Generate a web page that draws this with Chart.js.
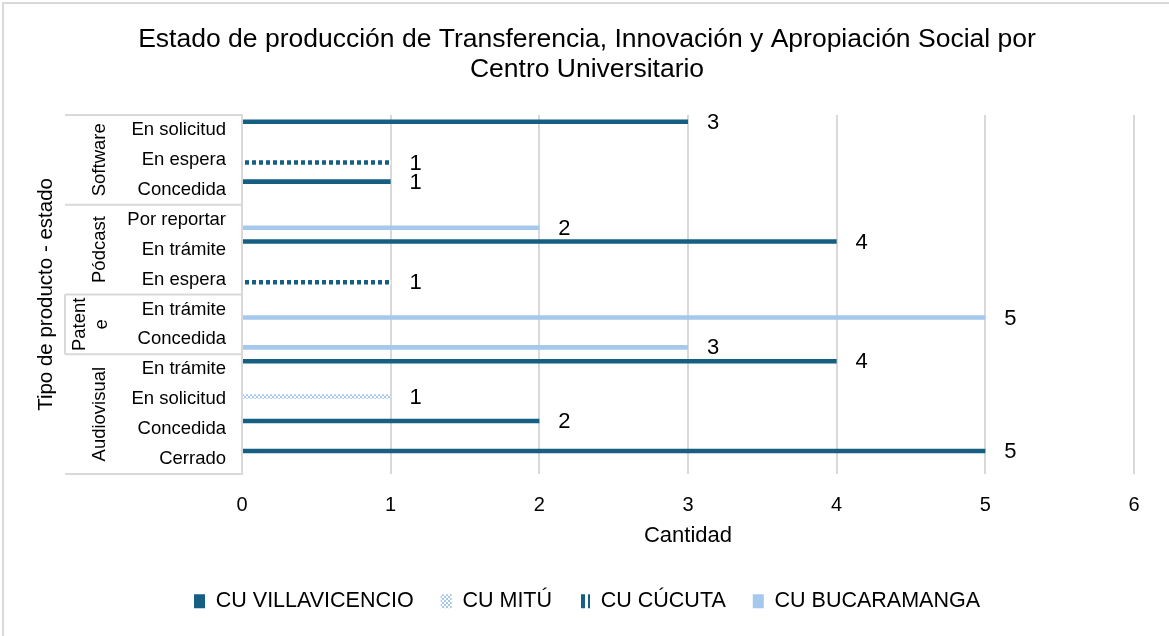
<!DOCTYPE html>
<html>
<head>
<meta charset="utf-8">
<script src="https://cdn.jsdelivr.net/npm/chart.js@4/dist/chart.umd.min.js"></script>
<style>
  body { margin: 0; background: #fff; }
  canvas { display: block; }
</style>
</head>
<body>
<canvas id="chart" width="1169" height="636"></canvas>
<script>
const FONT = 'Arial, "Liberation Sans", sans-serif';

const categories = [
  'En solicitud', 'En espera', 'Concedida',
  'Por reportar', 'En trámite', 'En espera',
  'En trámite', 'Concedida',
  'En trámite', 'En solicitud', 'Concedida', 'Cerrado',
];
const groupLabels = [['Software'], ['Pódcast'], ['Patent', 'e'], ['Audiovisual']];
const groupSizes = [3, 3, 2, 4];

const villavicencio = [3, null, 1, null, 4, null, null, null, 4, null, 2, 5];
const mitu = [null, null, null, null, null, null, null, null, null, 1, null, null];
const cucuta = [null, 1, null, null, null, 1, null, null, null, null, null, null];
const bucaramanga = [null, null, null, 2, null, null, 5, 3, null, null, null, null];

const xTicks = [0, 1, 2, 3, 4, 5, 6];

const DARK = '#175e83';
const LIGHT = '#a6c8ec';
const GRID = '#d9d9d9';

function makePattern(w, h, draw) {
  const c = document.createElement('canvas');
  c.width = w;
  c.height = h;
  const g = c.getContext('2d');
  draw(g);
  return g.createPattern(c, 'repeat');
}

// small checks for Mitú
const mituPattern = makePattern(4, 4, (g) => {
  g.fillStyle = '#ffffff';
  g.fillRect(0, 0, 4, 4);
  g.fillStyle = LIGHT;
  g.fillRect(0, 0, 2, 2);
  g.fillRect(2, 2, 2, 2);
});

// square dashes for Cúcuta
const cucutaPattern = makePattern(7, 8, (g) => {
  g.fillStyle = '#ffffff';
  g.fillRect(0, 0, 7, 8);
  g.fillStyle = DARK;
  g.fillRect(0, 0, 4, 8);
});

const groupPlugin = {
  id: 'groupLabels',
  beforeDraw(chart) {
    const ctx = chart.ctx;
    ctx.save();
    ctx.strokeStyle = GRID;
    ctx.lineWidth = 2;
    ctx.strokeRect(3, 3, chart.width, chart.height);
    ctx.restore();
  },
  afterDraw(chart) {
    const { ctx, chartArea } = chart;
    const y = chart.scales.y;
    const left = 65;
    const right = chartArea.left;
    const half = (y.getPixelForValue(1) - y.getPixelForValue(0)) / 2;
    ctx.save();
    ctx.strokeStyle = GRID;
    ctx.lineWidth = 2;
    ctx.beginPath();
    ctx.moveTo(left, chartArea.top);
    ctx.lineTo(right, chartArea.top);
    ctx.moveTo(left, chartArea.bottom);
    ctx.lineTo(right, chartArea.bottom);

    let start = 0;
    const bounds = [];
    groupSizes.forEach((size) => {
      const top = y.getPixelForValue(start) - half;
      const bottom = y.getPixelForValue(start + size - 1) + half;
      bounds.push([top, bottom]);
      start += size;
    });
    bounds.slice(1).forEach(([top]) => {
      ctx.moveTo(left, top);
      ctx.lineTo(right, top);
    });
    // Patente box keeps its left edge
    ctx.moveTo(left, bounds[2][0]);
    ctx.lineTo(left, bounds[2][1]);
    ctx.stroke();

    ctx.fillStyle = '#000';
    ctx.font = `18.5px ${FONT}`;
    ctx.textAlign = 'center';
    ctx.textBaseline = 'middle';
    groupLabels.forEach((lines, i) => {
      const cy = (bounds[i][0] + bounds[i][1]) / 2;
      const lh = 22;
      const x0 = 100 - ((lines.length - 1) * lh) / 2 - (lines.length > 1 ? 9 : 0);
      lines.forEach((line, j) => {
        ctx.save();
        ctx.translate(x0 + j * lh, cy);
        ctx.rotate(-Math.PI / 2);
        ctx.fillText(line, 0, 0);
        ctx.restore();
      });
    });
    ctx.restore();
  },
  afterDatasetsDraw(chart) {
    const ctx = chart.ctx;
    ctx.save();
    ctx.fillStyle = '#000';
    ctx.font = `22px ${FONT}`;
    ctx.textAlign = 'center';
    ctx.textBaseline = 'middle';
    chart.data.datasets.forEach((ds, i) => {
      const meta = chart.getDatasetMeta(i);
      meta.data.forEach((bar, j) => {
        const v = ds.data[j];
        if (v === null || v === undefined) return;
        ctx.fillText(String(v), bar.x + 25, bar.y + 1);
      });
    });
    ctx.restore();
  },
};

new Chart(document.getElementById('chart'), {
  type: 'bar',
  data: {
    labels: categories,
    datasets: [
      { label: 'CU VILLAVICENCIO', data: villavicencio, backgroundColor: DARK },
      { label: 'CU MITÚ', data: mitu, backgroundColor: mituPattern },
      { label: 'CU CÚCUTA', data: cucuta, backgroundColor: cucutaPattern },
      { label: 'CU BUCARAMANGA', data: bucaramanga, backgroundColor: LIGHT },
    ],
  },
  options: {
    indexAxis: 'y',
    responsive: false,
    animation: false,
    categoryPercentage: 0.72,
    barPercentage: 0.85,
    layout: { padding: { left: 30, right: 25, top: 0, bottom: 14 } },
    plugins: {
      title: {
        display: true,
        text: [
          'Estado de producción de Transferencia, Innovación y Apropiación Social por',
          'Centro Universitario',
        ],
        color: '#000',
        font: { family: FONT, size: 26.5, weight: 'normal', lineHeight: 1.13 },
        padding: { top: 25, bottom: 30 },
      },
      legend: {
        position: 'bottom',
        labels: {
          color: '#000',
          font: { family: FONT, size: 21.5 },
          boxWidth: 11,
          boxHeight: 14,
          padding: 27,
        },
      },
      tooltip: { enabled: false },
    },
    scales: {
      x: {
        min: 0,
        max: 6,
        afterBuildTicks(scale) {
          scale.ticks = xTicks.map((v) => ({ value: v }));
        },
        afterFit(scale) {
          scale.height = 89.5;
        },
        grid: { color: GRID, lineWidth: 2, drawTicks: false },
        border: { display: false },
        ticks: { color: '#000', font: { family: FONT, size: 20 }, padding: 19 },
        title: {
          display: true,
          text: 'Cantidad',
          color: '#000',
          font: { family: FONT, size: 22 },
          padding: { top: 4, bottom: 14 },
        },
      },
      y: {
        afterFit(scale) {
          scale.width = 212;
        },
        grid: { display: false, drawTicks: false },
        border: { display: true, color: GRID, width: 2 },
        ticks: { color: '#000', font: { family: FONT, size: 18.5 }, padding: 16 },
        title: {
          display: true,
          text: 'Tipo de producto - estado',
          color: '#000',
          font: { family: FONT, size: 20.5 },
          padding: { top: 4.5, bottom: 0 },
        },
      },
      // empty strip on the right so the plot ends where the reference does
      yRight: {
        type: 'category',
        position: 'right',
        afterFit(scale) {
          scale.width = 10;
        },
        grid: { display: false, drawTicks: false },
        border: { display: false },
        ticks: { display: false },
      },
    },
  },
  plugins: [groupPlugin],
});
</script>
</body>
</html>
